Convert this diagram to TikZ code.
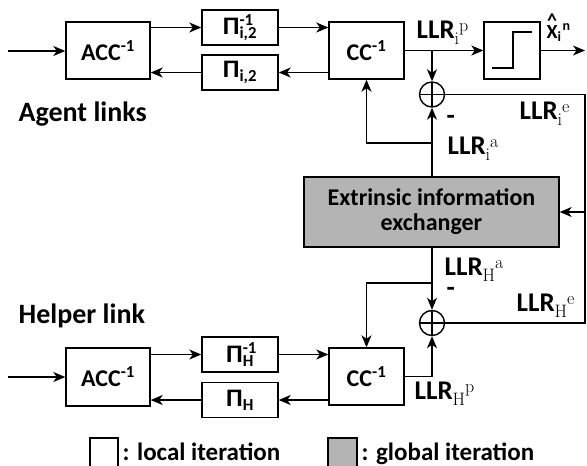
\documentclass[tikz,border=0pt]{standalone}
\usepackage{fontspec}
\setmainfont{Carlito}
\newfontfamily\lmr{Latin Modern Roman}
\usetikzlibrary{arrows.meta}
\newcommand\llr[2]{\textbf{LLR}\raisebox{-6pt}{\fontsize{18}{18}\selectfont\lmr\mdseries #1}\raisebox{7pt}{\fontsize{18}{18}\selectfont\lmr\mdseries #2}}
\newcommand\pisym[2]{\textbf{\scalebox{1.1}[1.05]{Π}\rlap{\textsuperscript{#2}}\textsubscript{#1}}}
\definecolor{exgray}{RGB}{180,180,180}
\begin{document}
\begin{tikzpicture}[x=1pt,y=-1pt, line width=1.4pt,
  >={Stealth[length=12pt,width=10pt,inset=3.5pt]},
  box/.style={draw, rectangle, inner sep=0pt, font=\fontsize{24}{28}\selectfont\bfseries},
  pibox/.style={box, minimum width=76pt, minimum height=35pt},
  bigbox/.style={box, minimum width=75pt, minimum height=57pt},
  sumnode/.style={draw, circle, minimum size=25pt, inner sep=0pt,
    path picture={\draw[line width=1.4pt] (path picture bounding box.north) -- (path picture bounding box.south)
      (path picture bounding box.west) -- (path picture bounding box.east);}},
  lbl/.style={inner sep=0pt, anchor=base west, font=\fontsize{27}{30}\selectfont\bfseries},
  legtext/.style={inner sep=0pt, anchor=base west, font=\fontsize{25}{28}\selectfont\bfseries},
  heading/.style={inner sep=0pt, anchor=base west, font=\fontsize{28}{32}\selectfont\bfseries}]
\useasboundingbox (0,0) rectangle (587,466);

% top (agent) chain
\node[bigbox, minimum width=84pt] (accA) at (108,50.5) {ACC\textsuperscript{-1}};
\node[pibox] (piinvA) at (240,27.5) {\pisym{i,2}{-1}};
\node[pibox] (piA) at (240,72.5) {\pisym{i,2}{}};
\node[bigbox] (ccA) at (366.5,50.5) {CC\textsuperscript{-1}};
\node[bigbox, minimum width=56pt] (stepA) at (512,50.5) {};
\node[sumnode] (plusA) at (432,94.5) {};
\node[box, fill=exgray, minimum width=255pt, minimum height=70pt, align=center] (exch) at (431.5,212)
  {Extrinsic information\\[-3pt]exchanger};
\node[sumnode] (plusH) at (432,323) {};
\node[bigbox] (ccH) at (366.5,376.5) {CC\textsuperscript{-1}};
\node[bigbox, minimum width=84pt, minimum height=58pt] (accH) at (108,377) {ACC\textsuperscript{-1}};
\node[pibox] (piinvH) at (240,354.5) {\pisym{H}{-1}};
\node[pibox] (piH) at (240,400) {\pisym{H}{}};

% step symbol
\draw (492,68) -- (513,68) -- (513,32) -- (532,32);

\coordinate (inA) at (8,51);
\coordinate (outA) at (585,50.5);
\coordinate (rA) at (585,94.5);
\coordinate (rH) at (585,323);
\coordinate (bA) at (432,143);
\coordinate (bH) at (432,283);
\coordinate (inH) at (8,377);

% agent connectors
\draw[->] (inA) -- (accA.west |- inA);
\draw[->] (accA.east |- piinvA) -- (piinvA.west);
\draw[->] (piinvA.east) -- (ccA.west |- piinvA);
\draw[->] (ccA.west |- piA) -- (piA.east);
\draw[->] (piA.west) -- (accA.east |- piA);
\draw[->] (ccA.east) -- (stepA.west);
\draw[->] (plusA |- ccA.east) -- (plusA.north);
\draw[->] (stepA.east) -- (outA);
\draw (plusA.east) -- (rA) -- (rH) -- (plusH.east);
\draw[->] (rA |- exch.east) -- (exch.east);
\draw[->] (plusA |- exch.north) -- (plusA.south);
\draw[->] (bA) -| (ccA.south);

% helper connectors
\draw[->] (plusH |- exch.south) -- (plusH.north);
\draw[->] (bH) -| (ccH.north);
\draw[->] (ccH.east) -| (plusH.south);
\draw[->] (inH) -- (accH.west |- inH);
\draw[->] (accH.east |- piinvH) -- (piinvH.west);
\draw[->] (piinvH.east) -- (ccH.west |- piinvH);
\draw[->] (ccH.west |- piH) -- (piH.east);
\draw[->] (piH.west) -- (accH.east |- piH);

% labels
\node[lbl] (lip) at (416,38) {\llr{i}{p}};
\node[inner sep=0pt, anchor=base west, font=\fontsize{20}{23}\selectfont\bfseries] (xhat) at (546,38)
  {\ooalign{X\cr\hidewidth\raisebox{0.55em}{\^{}}\hidewidth\cr}\textsubscript{i}\kern1pt\textsuperscript{n}};
\node[lbl] (lie) at (519,119) {\llr{i}{e}};
\node[lbl] (lia) at (447,154) {\llr{i}{a}};
\node[lbl] (mA) at (446,124) {-};
\node[lbl] (lha) at (444,275) {\llr{H}{a}};
\node[lbl] (mH) at (446,296) {-};
\node[lbl] (lhe) at (516,311) {\llr{H}{e}};
\node[lbl] (lhp) at (414,399) {\llr{H}{p}};
\node[heading] (agent) at (18,121) {Agent links};
\node[heading] (helper) at (18,323) {Helper link};

% legend
\node[draw, rectangle, minimum width=28pt, minimum height=34pt, inner sep=0pt] (legL) at (104,455) {};
\node[legtext] (legLt) at (122,460) {: local iteration};
\node[draw, fill=exgray, rectangle, minimum width=29pt, minimum height=34pt, inner sep=0pt] (legG) at (342.5,455) {};
\node[legtext] (legGt) at (361,460) {: global iteration};
\end{tikzpicture}
\end{document}
